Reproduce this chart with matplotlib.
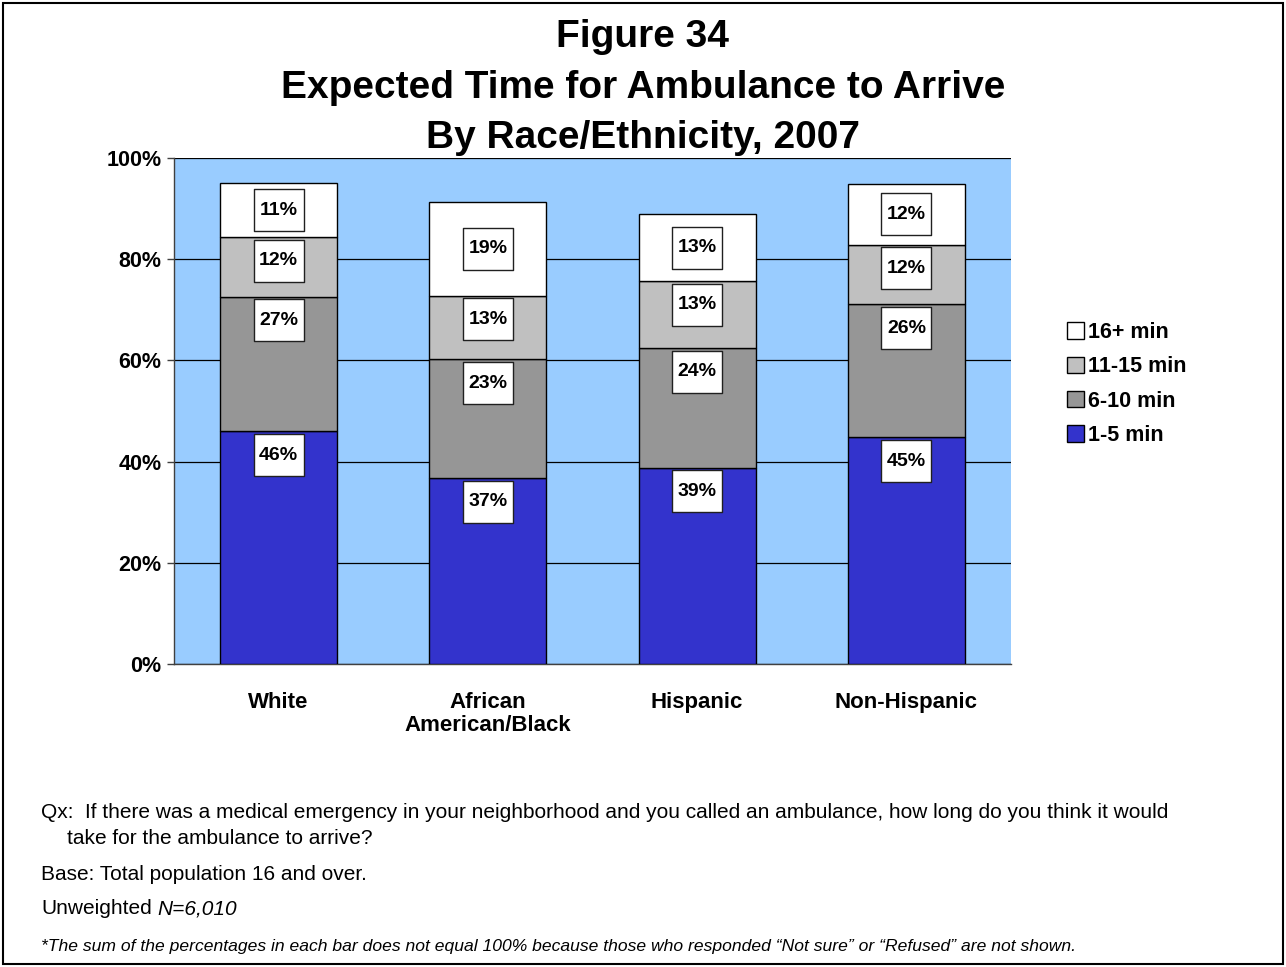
import matplotlib
matplotlib.use("Agg")
import matplotlib.pyplot as plt
import numpy as np
from matplotlib.path import Path
from matplotlib.patches import Rectangle

plt.rcParams['font.family'] = ['Liberation Sans', 'DejaVu Sans']

categories = ["White", "African\nAmerican/Black", "Hispanic", "Non-Hispanic"]
series_names = ["1-5 min", "6-10 min", "11-15 min", "16+ min"]
min_1_5 = [46.0, 36.8, 38.8, 44.8]
min_6_10 = [26.6, 23.4, 23.7, 26.3]
min_11_15 = [11.8, 12.6, 13.2, 11.8]
min_16_plus = [10.6, 18.6, 13.2, 11.9]
series_values = [min_1_5, min_6_10, min_11_15, min_16_plus]
colors = ["#3333CC", "#969696", "#C0C0C0", "#FFFFFF"]
yticks = [0, 20, 40, 60, 80, 100]

W, H = 1286, 967
fig = plt.figure(figsize=(W / 100, H / 100), dpi=100)
fig.patch.set_facecolor("white")

ax = fig.add_axes([174 / W, 1 - 664 / H, (1011 - 174) / W, (664 - 158) / H])
ax.set_facecolor("#99CCFF")

x = np.arange(len(categories))
bottom = np.zeros(len(categories))
handles = []
label_x, label_y, label_txt = [], [], []
for i, (name, vals, col) in enumerate(zip(series_names, series_values, colors)):
    vals = np.array(vals)
    b = ax.bar(x, vals, width=0.56, bottom=bottom, color=col, edgecolor="black",
               linewidth=1.0, label=name, zorder=3)
    handles.append(b)
    tops = bottom + vals
    if i == len(series_names) - 1:
        ly = bottom + vals / 2
    else:
        ly = tops - 4.7
    label_x.extend(x)
    label_y.extend(ly)
    label_txt.extend([f"{round(v)}%" for v in vals])
    bottom = tops

# label boxes (fixed-size rectangle markers)
rect = Path([(-0.5, -0.42), (0.5, -0.42), (0.5, 0.42), (-0.5, 0.42), (-0.5, -0.42)],
            [Path.MOVETO, Path.LINETO, Path.LINETO, Path.LINETO, Path.CLOSEPOLY])
ax.plot(label_x, label_y, linestyle="none", marker=rect, markersize=36,
        markerfacecolor="white", markeredgecolor="#202020", markeredgewidth=1.0, zorder=4)
for lx, ly, t in zip(label_x, label_y, label_txt):
    ax.text(lx, ly, t, ha="center", va="center", fontsize=14, fontweight="bold",
            zorder=5)

ax.set_xlim(-0.5, len(categories) - 0.5)
ax.set_ylim(0, 100)
ax.set_yticks(yticks)
ax.set_yticklabels([f"{v}%" for v in yticks], fontsize=15.5, fontweight="bold")
ax.set_xticks(x)
ax.set_xticklabels(categories, fontsize=16, fontweight="bold", linespacing=1.15)
ax.tick_params(axis="x", length=0, pad=20)
ax.tick_params(axis="y", length=5, width=1, color="#404040", pad=4, direction="out")
ax.yaxis.grid(True, color="black", linewidth=0.9, zorder=1)
ax.set_axisbelow(True)
for s in ["top", "right"]:
    ax.spines[s].set_visible(False)
for s in ["left", "bottom"]:
    ax.spines[s].set_color("#404040")
    ax.spines[s].set_linewidth(1.0)

# legend
leg = fig.legend(handles[::-1], series_names[::-1], loc="upper left",
                 bbox_to_anchor=(1067 / W, 1 - 322 / H), frameon=False,
                 prop={"size": 15.5, "weight": "bold"}, handlelength=0.8,
                 handleheight=0.8, handletextpad=0.18, labelspacing=0.62,
                 borderpad=0, borderaxespad=0)

# title
fig.text(0.5, 1 - 47 / H, "Figure 34", ha="center", va="baseline",
         fontsize=28, fontweight="bold")
fig.text(0.5, 1 - 98 / H, "Expected Time for Ambulance to Arrive", ha="center",
         va="baseline", fontsize=28, fontweight="bold")
fig.text(0.5, 1 - 148 / H, "By Race/Ethnicity, 2007", ha="center", va="baseline",
         fontsize=28, fontweight="bold")

# notes
fs = 15
fig.text(41 / W, 1 - 813 / H,
         "Qx:  If there was a medical emergency in your neighborhood and you called an ambulance, how long do you think it would",
         ha="left", va="center", fontsize=fs)
fig.text(67 / W, 1 - 839 / H, "take for the ambulance to arrive?", ha="left",
         va="center", fontsize=fs)
fig.text(41 / W, 1 - 874 / H, "Base: Total population 16 and over.", ha="left",
         va="center", fontsize=fs)
t1 = fig.text(41 / W, 1 - 909 / H, "Unweighted", ha="left", va="center", fontsize=fs)
fig.canvas.draw()
bb = t1.get_window_extent()
fig.text((bb.x1 + 6) / W, 1 - 909 / H, "N=6,010", ha="left", va="center", fontsize=fs,
         style="italic")
fig.text(41 / W, 1 - 946 / H,
         "*The sum of the percentages in each bar does not equal 100% because those who responded \u201cNot sure\u201d or \u201cRefused\u201d are not shown.",
         ha="left", va="center", fontsize=12.6, style="italic")

# border
fig.patches.append(Rectangle((3 / W, 3 / H), 1 - 6 / W, 1 - 6 / H, fill=False,
                             edgecolor="black", linewidth=1.5,
                             transform=fig.transFigure, figure=fig))

fig.savefig("out.png", dpi=100)
